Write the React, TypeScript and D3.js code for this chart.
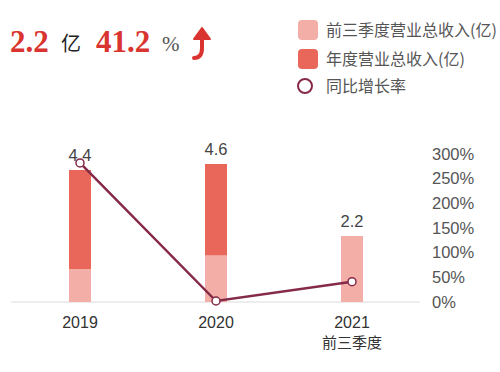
import React from 'react';
import * as d3 from 'd3';

const categories = ['2019', '2020', '2021'];
const subLabels = ['', '', '前三季度'];
const annualRevenue = [4.4, 4.6, null];
const q3Revenue = [1.1, 1.56, 2.2];
const growthRate = [282, 2, 41.2];
const percentTicks = [0, 50, 100, 150, 200, 250, 300];
const legendItems = ['前三季度营业总收入(亿)', '年度营业总收入(亿)', '同比增长率'];

const LIGHT = '#f2aea7';
const DARK = '#e8675a';
const LINE = '#852a48';
const RED = '#d9342f';
const SANS = '"Liberation Sans", Arial, "Noto Sans CJK SC", sans-serif';
const CJK = '"Noto Sans CJK SC", sans-serif';

export default function App() {
  const baseline = 302;
  const x = d3.scalePoint<string>().domain(categories).range([80, 352]);
  const yBar = d3.scaleLinear().domain([0, 5]).range([baseline, baseline - 150]);
  const yPct = d3.scaleLinear().domain([0, 300]).range([baseline, 154]);
  const barW = 22;

  const line = d3.line<number>()
    .x((_, i) => x(categories[i]) as number)
    .y(d => yPct(d));

  return (
    <svg width={500} height={372} style={{ position: 'fixed', left: 0, top: 0, background: '#fff' }}>
      {/* headline */}
      <g>
        <text x={10} y={52} fontFamily='"Liberation Serif", serif' fontWeight="bold" fontSize={31} fill={RED}>2.2</text>
        <text x={61} y={51} fontFamily={CJK} fontSize={20} fill="#222">亿</text>
        <text x={96} y={52} fontFamily='"Liberation Serif", serif' fontWeight="bold" fontSize={31} fill={RED}>41.2</text>
        <text x={162} y={51} fontFamily='"Liberation Serif", serif' fontSize={21} fill="#555">%</text>
        <path d="M194,58 Q202,58 202,48 L202,38" fill="none" stroke={RED} strokeWidth={4} strokeLinecap="round" />
        <path d="M194,39 L202,28 L210,39 Z" fill={RED} stroke={RED} strokeWidth={2} strokeLinejoin="round" />
      </g>

      {/* legend */}
      <g fontFamily={CJK} fontSize={16} fill="#555">
        <rect x={298} y={20} width={20} height={20} rx={4} fill={LIGHT} />
        <text x={326} y={36}>{legendItems[0]}</text>
        <rect x={298} y={49} width={20} height={20} rx={4} fill={DARK} />
        <text x={326} y={65}>{legendItems[1]}</text>
        <circle cx={305} cy={86} r={7} fill="#fff" stroke={LINE} strokeWidth={2} />
        <text x={326} y={92}>{legendItems[2]}</text>
      </g>

      {/* baseline */}
      <line x1={11} x2={420} y1={baseline} y2={baseline} stroke="#dcdcdc" strokeWidth={1} />

      {/* bars */}
      {categories.map((c, i) => {
        const cx = x(c) as number;
        const total = annualRevenue[i];
        const topVal = total ?? q3Revenue[i];
        return (
          <g key={c}>
            {total != null && (
              <rect x={cx - barW / 2} y={yBar(total)} width={barW} height={baseline - yBar(total)} fill={DARK} />
            )}
            <rect x={cx - barW / 2} y={yBar(q3Revenue[i])} width={barW} height={baseline - yBar(q3Revenue[i])} fill={LIGHT} />
            <text x={cx} y={yBar(topVal) - 9} textAnchor="middle" fontFamily={SANS} fontSize={16.5} fill="#444">
              {topVal.toFixed(1)}
            </text>
          </g>
        );
      })}

      {/* growth line */}
      <path d={line(growthRate) as string} fill="none" stroke={LINE} strokeWidth={2.5} />
      {growthRate.map((v, i) => (
        <circle key={i} cx={x(categories[i]) as number} cy={yPct(v)} r={4} fill="#fff" stroke={LINE} strokeWidth={1.5} />
      ))}

      {/* right axis */}
      <g fontFamily={SANS} fontSize={16.5} fill="#555">
        {percentTicks.map(t => (
          <text key={t} x={432} y={yPct(t)} dy="0.35em">{t}%</text>
        ))}
      </g>

      {/* x labels */}
      <g fontFamily={SANS} fontSize={16} fill="#333" textAnchor="middle">
        {categories.map((c, i) => (
          <g key={c}>
            <text x={x(c) as number} y={328}>{c}</text>
            {subLabels[i] && (
              <text x={x(c) as number} y={348} fontSize={15} fontFamily={CJK}>{subLabels[i]}</text>
            )}
          </g>
        ))}
      </g>
    </svg>
  );
}
